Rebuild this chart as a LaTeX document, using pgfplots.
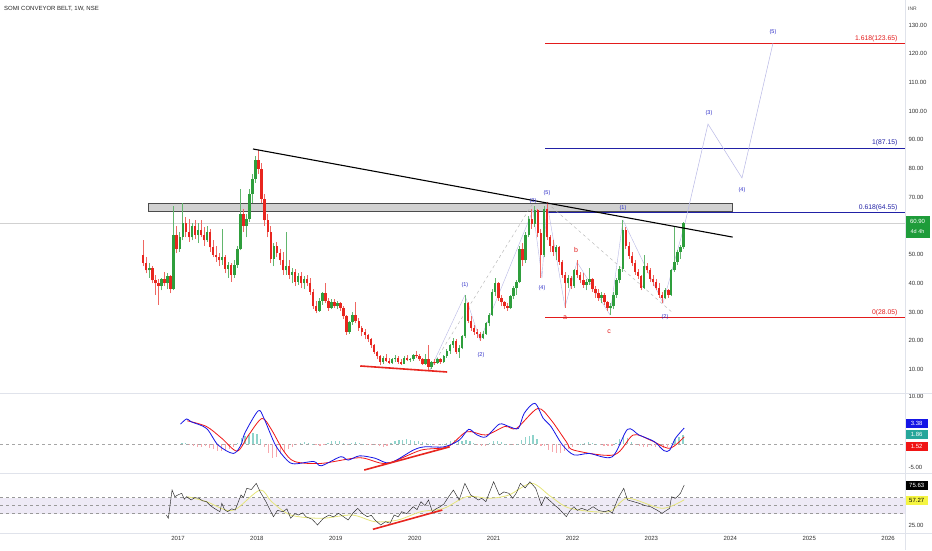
\documentclass[border=0pt]{standalone}
\usepackage{fontspec}
\setmainfont{Liberation Sans}
\usepackage{pgfplots}
\usepackage{pgfplotstable}
\pgfplotsset{compat=1.18}

\definecolor{upc}{HTML}{2E9E3C}
\definecolor{dnc}{HTML}{E8261F}
\definecolor{fibred}{HTML}{E31B1B}
\definecolor{fibblue}{HTML}{2121A6}
\definecolor{wavec}{HTML}{2B2BC8}
\definecolor{projc}{HTML}{B8B8E6}
\definecolor{sepc}{HTML}{E0E3EB}
\definecolor{macdb}{HTML}{1515E6}
\definecolor{macdr}{HTML}{F01515}
\definecolor{histpos}{HTML}{8FD3CB}
\definecolor{histneg}{HTML}{F7A8AE}
\definecolor{rsiband}{HTML}{EEEAF6}
\definecolor{rsima}{HTML}{E6E67A}
\definecolor{tagg}{HTML}{1E9C3A}
\definecolor{tagteal}{HTML}{26A69A}
\definecolor{tagy}{HTML}{F5F542}

% weekly-ish candles (2 weeks per bar): t open high low close
\pgfplotstableread{
t o h l c
2016.560 50 55 46 47
2016.598 47 49 43.5 44.5
2016.637 44.5 47 42 45.5
2016.675 45.5 46 40 41
2016.714 41 43 36 40
2016.752 40 41.5 32.5 39
2016.791 39 42 37.5 41.5
2016.829 41.5 44 39 40
2016.868 40 43.5 38 42.5
2016.906 42.5 43 36.5 38
2016.945 38 67 37.5 57
2016.983 57 60 50.5 52
2017.022 52 58 51 56
2017.060 56 68 55 61
2017.098 61 63 56 58
2017.137 58 62.5 54.5 56
2017.175 56 61 55 60
2017.214 60 62 55.5 57
2017.252 57 61 54 58.5
2017.291 58.5 62 56 57
2017.329 57 59.5 53 55
2017.368 55 60 54.5 58
2017.406 58 59 51 52.5
2017.445 52.5 55 49 50
2017.483 50 53 47.5 49
2017.521 49 50.5 46 48
2017.560 48 59 46.5 49
2017.598 49 50 43.5 45
2017.637 45 47.5 42 46.5
2017.675 46.5 47 40.5 43
2017.714 43 48 42 46.5
2017.752 46.5 53 45.5 52
2017.791 52 73 51.5 64
2017.829 64 66 58 60
2017.868 60 64 56 62.5
2017.906 62.5 73 61.5 71
2017.945 71 78 68 76.5
2017.983 76.5 84.5 75 83
2018.021 83 86.5 78 80
2018.060 80 82 68 69.5
2018.098 69.5 71 60 62
2018.137 62 64 56 58
2018.175 58 60 47 48.5
2018.214 48.5 54 46 53
2018.252 53 54.5 49 50.5
2018.291 50.5 52 46.5 48
2018.329 48 51 43 44.5
2018.368 44.5 58 43 46
2018.406 46 48 41.5 43
2018.445 43 45.5 40 44
2018.483 44 45 39 40.5
2018.521 40.5 43.5 39.5 42.5
2018.560 42.5 44 38.5 40
2018.598 40 42.5 38 41.5
2018.637 41.5 43 39 40
2018.675 40 42 36 37
2018.714 37 38 31 32
2018.752 32 34 29.5 30.5
2018.791 30.5 35 30 34
2018.829 34 37 32.5 36.5
2018.868 36.5 40 33 34
2018.906 34 35 30.5 31.5
2018.944 31.5 34.5 31 33.5
2018.983 33.5 34.5 31.5 32
2019.021 32 34 31 33
2019.060 33 33.5 30.5 31.5
2019.098 31.5 32 27.5 28.5
2019.137 28.5 29 22 23
2019.175 23 27 22.5 26.5
2019.214 26.5 30 25.5 29
2019.252 29 33.5 26 27
2019.291 27 28 23.5 24.5
2019.329 24.5 25 21.5 23
2019.368 23 24 20.5 22
2019.406 22 22.5 19.5 20.5
2019.445 20.5 21 17.5 18.5
2019.483 18.5 19 15.5 16
2019.521 16 16.5 13.5 14.5
2019.560 14.5 15 11.5 12.5
2019.598 12.5 14.5 11.8 14
2019.637 14 15.5 12.5 13
2019.675 13 14 11.8 12.3
2019.714 12.3 14 12 13.5
2019.752 13.5 15 12.5 14
2019.791 14 14.5 12 12.5
2019.829 12.5 13.5 11.5 12
2019.868 12 14.5 11.8 14
2019.906 14 15 12.8 13.2
2019.944 13.2 14 12.5 13.5
2019.983 13.5 15.5 13 15
2020.021 15 16.5 14 14.5
2020.060 14.5 15.2 13 13.5
2020.098 13.5 14 11.5 12
2020.137 12 15.5 11.5 13.8
2020.175 13.8 18.5 9.8 11
2020.214 11 13 10 12.5
2020.252 12.5 13.5 11.5 12.2
2020.291 12.2 14 12 13.5
2020.329 13.5 14 12 12.5
2020.368 12.5 15 12.3 14.5
2020.406 14.5 17 14 16.5
2020.445 16.5 19 15.5 18.5
2020.483 18.5 21 17.5 20
2020.521 20 20.5 15.5 16
2020.560 16 18.5 14 17.5
2020.598 17.5 22 17 21.5
2020.637 21.5 36 21 33
2020.675 33 33.5 26 27
2020.714 27 28.5 23.5 24.5
2020.752 24.5 25.5 22 23
2020.791 23 24 21 22.5
2020.829 22.5 23 20 21
2020.868 21 23.5 20.5 22.5
2020.906 22.5 26.5 22 26
2020.944 26 29.5 25 29
2020.983 29 38 28.5 37
2021.021 37 42 35.5 40
2021.060 40 40.5 34 35
2021.098 35 36 32 33.5
2021.137 33.5 34 31 32
2021.175 32 33 30.5 31.5
2021.214 31.5 36 31 35.5
2021.252 35.5 39 34.5 38.5
2021.291 38.5 41 36 40.5
2021.329 40.5 53 40 52
2021.368 52 54 46 48
2021.406 48 58 47 57
2021.445 57 63.5 56 62.5
2021.483 62.5 66 59 60.5
2021.521 60.5 67 59.5 65.5
2021.560 65.5 66 56 57.5
2021.598 57.5 59 42 50
2021.637 50 67 49 66
2021.675 66 68.5 55 56
2021.714 56 57 51 53
2021.752 53 55 49.5 51
2021.791 51 53.5 48 52.5
2021.829 52.5 53 46.5 47.5
2021.868 47.5 48 42 43
2021.906 43 44 31.5 40
2021.944 40 43 38.5 42
2021.983 42 42.5 38 39
2022.021 39 45 38.5 44.5
2022.060 44.5 48 42 43
2022.098 43 44 40 41
2022.137 41 43.5 38.5 39.5
2022.175 39.5 41.5 37.5 40.5
2022.214 40.5 45.5 39.5 41.5
2022.252 41.5 42 37 38
2022.291 38 39 35 36.5
2022.329 36.5 38 34 35
2022.368 35 37 33 36
2022.406 36 36.5 32.5 33.5
2022.445 33.5 34 30.5 31.5
2022.483 31.5 33 29 32
2022.521 32 37 31 36
2022.560 36 42 35 41
2022.598 41 46 40 45
2022.637 45 62 44 58.5
2022.675 58.5 59.5 52 53
2022.714 53 54.5 48.5 49.5
2022.752 49.5 51 46 47
2022.791 47 48 43 44
2022.829 44 45 41.5 42.5
2022.868 42.5 43 37.5 38.5
2022.906 38.5 50 38 46
2022.944 46 47 43.5 44.5
2022.983 44.5 45.5 40.5 41.5
2023.021 41.5 43 39 40.5
2023.060 40.5 41.5 37.5 38.5
2023.098 38.5 40 35 36
2023.137 36 37 33 35
2023.175 35 38.5 34.5 37.5
2023.214 37.5 38 35 36
2023.252 36 45 35.5 44.5
2023.291 44.5 59.5 44 47.5
2023.329 47.5 51.5 46.5 51
2023.368 51 53.5 48.5 52.5
2023.406 52.5 61.5 52 60.9
}\candles

% MACD histogram
\pgfplotstableread{
t h
2017.05 0.3
2017.10 0.3
2017.15 -0.2
2017.20 -0.5
2017.25 -0.7
2017.30 -0.6
2017.35 -0.5
2017.40 -0.8
2017.45 -1.1
2017.50 -1.4
2017.55 -1.5
2017.60 -1.3
2017.65 -1.0
2017.70 -0.7
2017.75 0.2
2017.80 1.2
2017.85 1.6
2017.90 2.0
2017.95 2.4
2018.00 2.2
2018.05 1.0
2018.10 -0.6
2018.15 -2.0
2018.20 -2.9
2018.25 -2.8
2018.30 -2.2
2018.35 -1.6
2018.40 -1.0
2018.45 -0.6
2018.50 -0.3
2018.55 0.2
2018.60 0.4
2018.65 0.3
2018.70 0.1
2018.75 -0.3
2018.80 -0.5
2018.85 -0.3
2018.90 0.3
2018.95 0.6
2019.00 0.7
2019.05 0.6
2019.10 0.2
2019.15 -0.2
2019.20 0.2
2019.25 0.4
2019.30 0.3
2019.35 0.1
2019.40 -0.2
2019.45 -0.3
2019.50 -0.2
2019.55 -0.4
2019.60 -0.6
2019.65 -0.4
2019.70 0.3
2019.75 0.6
2019.80 0.8
2019.85 0.9
2019.90 1.0
2019.95 0.9
2020.00 0.7
2020.05 0.6
2020.10 0.5
2020.15 0.3
2020.20 0.1
2020.25 -0.1
2020.30 -0.2
2020.35 0.1
2020.40 0.3
2020.45 0.6
2020.50 0.8
2020.55 0.9
2020.60 0.7
2020.65 0.9
2020.70 0.6
2020.75 0.2
2020.80 -0.3
2020.85 -0.5
2020.90 -0.4
2020.95 0.3
2021.00 0.6
2021.05 0.7
2021.10 0.4
2021.15 0.1
2021.20 -0.1
2021.25 -0.2
2021.30 0.1
2021.35 0.9
2021.40 1.5
2021.45 1.7
2021.50 1.8
2021.55 1.1
2021.60 -0.4
2021.65 -0.5
2021.70 -1.2
2021.75 -1.6
2021.80 -1.9
2021.85 -1.8
2021.90 -1.4
2021.95 -1.0
2022.00 -0.7
2022.05 -0.3
2022.10 0.1
2022.15 0.3
2022.20 0.4
2022.25 0.3
2022.30 0.1
2022.35 -0.2
2022.40 -0.4
2022.45 -0.5
2022.50 -0.4
2022.55 0.3
2022.60 1.0
2022.65 1.5
2022.70 1.3
2022.75 0.5
2022.80 -0.2
2022.85 -0.5
2022.90 -0.7
2022.95 -0.6
2023.00 -0.5
2023.05 -0.6
2023.10 -0.8
2023.15 -0.9
2023.20 -0.6
2023.25 0.2
2023.30 1.1
2023.35 1.5
2023.40 1.86
}\hist

\pgfplotsset{
  tvpane/.style={
    scale only axis, width=905pt,
    xmin=2014.744, xmax=2026.214,
    axis line style={draw=none},
    major tick length=0pt,
    xtick=\empty,
    yticklabel pos=right,
    tick label style={font=\fontsize{6}{7}\selectfont, text=black!80},
    /pgf/number format/assume math mode=true,
    yticklabel style={/pgf/number format/.cd, fixed, fixed zerofill, precision=2},
    anchor=south west,
  },
  candle/.style={draw=none, mark=none, forget plot,
    error bars/y dir=plus, error bars/y explicit, error bars/error mark=none},
}

\begin{document}
\begin{tikzpicture}
\fill[white] (0pt,0pt) rectangle (932pt,550pt);
\path[use as bounding box] (0pt,0pt) rectangle (932pt,550pt);

% ---------- price pane ----------
\begin{axis}[tvpane, at={(0pt,157pt)}, height=393pt,
  ymin=1.78, ymax=138.71, ytick={10,20,30,40,50,70,80,90,100,110,120,130}]
  % current price line
  \addplot[color=black!18, line width=0.4pt] coordinates {(2014.744,60.9) (2026.214,60.9)};
  % resistance zone
  \draw[fill=black!18, draw=black!70, line width=0.6pt] (axis cs:2016.62,65.2) rectangle (axis cs:2024.03,68.0);
  % fibonacci levels
  \addplot[fibred, line width=0.9pt] coordinates {(2021.652,123.65) (2026.214,123.65)};
  \addplot[fibblue, line width=0.9pt] coordinates {(2021.652,87.15) (2026.214,87.15)};
  \addplot[fibblue, line width=0.9pt] coordinates {(2021.673,64.55) (2026.214,64.55)};
  \addplot[fibred, line width=0.9pt] coordinates {(2021.652,28.05) (2026.214,28.05)};
  \begin{scope}[font=\fontsize{6.8}{8}\selectfont]
    \node[anchor=south east, inner sep=1.5pt, text=fibred] at (axis cs:2026.14,123.65) {1.618(123.65)};
    \node[anchor=south east, inner sep=1.5pt, text=fibblue] at (axis cs:2026.14,87.15) {1(87.15)};
    \node[anchor=south east, inner sep=1.5pt, text=fibblue] at (axis cs:2026.14,64.55) {0.618(64.55)};
    \node[anchor=south east, inner sep=1.5pt, text=fibred] at (axis cs:2026.14,28.05) {0(28.05)};
  \end{scope}
  % wave guide lines
  \addplot[black!30, dashed, line width=0.4pt] coordinates {(2020.19,9.8) (2021.50,68.0)};
  \addplot[black!30, dashed, line width=0.4pt] coordinates {(2021.677,68.0) (2023.274,29.6)};
  \addplot[projc, line width=0.4pt] coordinates {(2020.194,9.8) (2020.637,35.9) (2020.828,20.2) (2021.499,65.5) (2021.613,41.8) (2021.677,68.0) (2021.905,31.7) (2022.057,47.4) (2022.475,29.0) (2022.640,62.0) (2023.147,33.1) (2023.426,61.0)};
  \addplot[projc, line width=0.5pt] coordinates {(2023.426,61.0) (2023.717,95.5) (2024.148,76.7) (2024.541,123.7)};
  % candles: wicks
  \addplot[candle, restrict expr to domain={\thisrow{c}-\thisrow{o}}{0:1000},
    error bars/error bar style={draw=upc!75, line width=0.6pt}]
    table[x=t, y=l, y error expr=\thisrow{h}-\thisrow{l}] {\candles};
  \addplot[candle, restrict expr to domain={\thisrow{c}-\thisrow{o}}{-1000:-0.001},
    error bars/error bar style={draw=dnc!70, line width=0.6pt}]
    table[x=t, y=l, y error expr=\thisrow{h}-\thisrow{l}] {\candles};
  % candles: bodies
  \addplot[candle, restrict expr to domain={\thisrow{c}-\thisrow{o}}{0:1000},
    error bars/error bar style={draw=upc, line width=2.4pt}]
    table[x=t, y=o, y error expr=\thisrow{c}-\thisrow{o}] {\candles};
  \addplot[candle, restrict expr to domain={\thisrow{c}-\thisrow{o}}{-1000:-0.001},
    error bars/error bar style={draw=dnc, line width=2.4pt}]
    table[x=t, y=c, y error expr=\thisrow{o}-\thisrow{c}] {\candles};
  % trend lines
  \addplot[black, line width=1.1pt] coordinates {(2017.95,86.8) (2024.03,56.1)};
  \addplot[dnc, line width=1.6pt] coordinates {(2019.31,11.2) (2020.41,9.1)};
  % wave labels
  \begin{scope}[font=\fontsize{5.5}{6}\selectfont, text=wavec]
    \node at (axis cs:2020.637,39.4) {(1)};
    \node at (axis cs:2020.840,15.0) {(2)};
    \node at (axis cs:2021.499,68.7) {(3)};
    \node at (axis cs:2021.613,38.4) {(4)};
    \node at (axis cs:2021.677,71.5) {(5)};
    \node at (axis cs:2022.640,66.2) {(1)};
    \node at (axis cs:2023.172,28.3) {(2)};
    \node at (axis cs:2023.730,99.3) {(3)};
    \node at (axis cs:2024.148,72.5) {(4)};
    \node at (axis cs:2024.541,127.6) {(5)};
  \end{scope}
  \begin{scope}[font=\fontsize{7}{8}\selectfont, text=fibred]
    \node at (axis cs:2021.905,27.9) {a};
    \node at (axis cs:2022.044,51.6) {b};
    \node at (axis cs:2022.463,23.0) {c};
  \end{scope}
\end{axis}

% ---------- MACD pane ----------
\begin{axis}[tvpane, at={(0pt,77pt)}, height=80pt,
  ymin=-6.13, ymax=10.78, ytick={-5,10}]
  \addplot[black!35, dashed, line width=0.4pt] coordinates {(2014.744,0) (2026.214,0)};
  \addplot[ycomb, no marks, histpos, line width=1.2pt, restrict y to domain=0:50] table[x=t, y=h] {\hist};
  \addplot[ycomb, no marks, histneg, line width=1.2pt, restrict y to domain=-50:0] table[x=t, y=h] {\hist};
  \addplot[macdr, line width=0.8pt, smooth] coordinates {
    (2017.119,4.9) (2017.361,3.7) (2017.555,1.2) (2017.750,-1.5) (2017.895,1.9)
    (2018.065,5.4) (2018.186,3.0) (2018.332,-1.3) (2018.478,-3.7) (2018.817,-4.1)
    (2019.302,-2.9) (2019.641,-4.1) (2020.079,-1.3) (2020.417,-0.6) (2020.660,2.6)
    (2020.902,1.9) (2021.144,3.7) (2021.290,3.3) (2021.558,7.5) (2021.727,5.1)
    (2021.921,0.5) (2022.018,-1.3) (2022.527,-2.3) (2022.769,1.9) (2022.989,0.8)
    (2023.231,-0.9) (2023.416,1.52)};
  \addplot[macdb, line width=0.8pt, smooth] coordinates {
    (2017.032,4.2) (2017.109,5.3) (2017.167,4.7) (2017.361,3.3) (2017.507,-0.2)
    (2017.701,-2.0) (2017.798,-0.2) (2017.847,2.3) (2018.016,7.0) (2018.090,5.4)
    (2018.234,-0.2) (2018.380,-3.4) (2018.478,-4.2) (2018.720,-3.7) (2018.817,-4.6)
    (2019.060,-2.7) (2019.156,-3.4) (2019.302,-2.5) (2019.496,-3.0) (2019.689,-4.0)
    (2019.981,-1.3) (2020.127,-0.6) (2020.369,-0.6) (2020.563,0.8) (2020.684,3.1)
    (2020.782,2.0) (2020.902,1.5) (2021.072,4.2) (2021.194,3.7) (2021.314,3.3)
    (2021.388,6.5) (2021.523,8.6) (2021.630,5.4) (2021.727,3.7) (2021.873,-0.2)
    (2022.018,-2.3) (2022.212,-2.0) (2022.503,-2.7) (2022.697,3.1) (2022.843,1.9)
    (2023.037,0.5) (2023.158,-1.4) (2023.231,-1.3) (2023.304,1.2) (2023.416,3.38)};
  \addplot[dnc, line width=1.6pt] coordinates {(2019.360,-5.5) (2020.442,-0.6)};
\end{axis}

% ---------- RSI pane ----------
\begin{axis}[tvpane, at={(0pt,17pt)}, height=60pt,
  ymin=15.92, ymax=90.55, ytick={25},
  xtick={2017,2018,...,2026},
  xticklabels={2017,2018,2019,2020,2021,2022,2023,2024,2025,2026}]
  \fill[rsiband] (axis cs:2014.744,40) rectangle (axis cs:2026.214,60);
  \addplot[black!40, dashed, line width=0.4pt] coordinates {(2014.744,60) (2026.214,60)};
  \addplot[black!40, dashed, line width=0.4pt] coordinates {(2014.744,50) (2026.214,50)};
  \addplot[black!40, dashed, line width=0.4pt] coordinates {(2014.744,40) (2026.214,40)};
  \addplot[rsima, line width=0.8pt, smooth] coordinates {
    (2017.119,61.1) (2017.361,54.9) (2017.605,44.5) (2017.750,46.6) (2018.041,69.4)
    (2018.186,54.9) (2018.428,38.3) (2018.817,34.2) (2019.205,38.3) (2019.496,30)
    (2019.787,32.1) (2020.079,42.4) (2020.369,46.6) (2020.660,61.1) (2020.951,59.1)
    (2021.194,63.2) (2021.484,77.7) (2021.727,61.1) (2021.970,46.6) (2022.455,42.4)
    (2022.697,59.1) (2023.135,46.6) (2023.416,57.27)};
  \addplot[black!85, line width=0.45pt] coordinates {
    (2016.853,38.3) (2016.877,34.2) (2016.925,69.4) (2016.960,61) (2016.997,63.2)
    (2017.047,65.3) (2017.080,58) (2017.109,61.1) (2017.167,57) (2017.215,60)
    (2017.265,59.1) (2017.310,56) (2017.361,54.9) (2017.410,50) (2017.459,46.6)
    (2017.531,42.4) (2017.555,52.9) (2017.590,45) (2017.629,42.4) (2017.680,46)
    (2017.725,44.5) (2017.798,63.2) (2017.830,60) (2017.871,71.5) (2017.930,70)
    (2017.992,77.7) (2018.041,67.3) (2018.114,54.9) (2018.210,36.2) (2018.260,44)
    (2018.332,42.4) (2018.380,46) (2018.428,34.2) (2018.480,40) (2018.526,38.3)
    (2018.580,41) (2018.622,36.2) (2018.700,33) (2018.768,25.9) (2018.840,34)
    (2018.914,38.3) (2018.970,36) (2019.035,40.4) (2019.100,36) (2019.156,32.1)
    (2019.220,41) (2019.278,46.6) (2019.340,40) (2019.399,36.2) (2019.450,38)
    (2019.496,32.1) (2019.569,25.9) (2019.630,30) (2019.689,28) (2019.739,38.3)
    (2019.790,36) (2019.835,42.4) (2019.900,40) (2019.981,48.6) (2020.030,45)
    (2020.079,54.9) (2020.130,50) (2020.175,57) (2020.223,42.4) (2020.270,46)
    (2020.321,48.6) (2020.370,52) (2020.417,59.1) (2020.490,69.4) (2020.563,57)
    (2020.636,77.7) (2020.709,63.2) (2020.760,60) (2020.806,57) (2020.850,59)
    (2020.902,54.9) (2021.000,79.7) (2021.072,63.2) (2021.130,67) (2021.194,65.3)
    (2021.242,59.1) (2021.290,66) (2021.340,77.7) (2021.400,72) (2021.460,79.7)
    (2021.534,71.5) (2021.606,50.7) (2021.654,61.1) (2021.727,54.9) (2021.780,50)
    (2021.824,46.6) (2021.921,36.2) (2021.970,44) (2022.018,48.6) (2022.060,44)
    (2022.115,46.6) (2022.190,44) (2022.261,48.6) (2022.330,44) (2022.407,42.4)
    (2022.460,44) (2022.503,40.4) (2022.577,59.1) (2022.649,71.5) (2022.697,57)
    (2022.770,55) (2022.843,52.9) (2022.920,50) (2022.989,48.6) (2023.060,45)
    (2023.135,40.4) (2023.190,44) (2023.231,46.6) (2023.255,61.1) (2023.300,59)
    (2023.328,61.1) (2023.368,65.3) (2023.416,75.63)};
  \addplot[dnc, line width=1.6pt] coordinates {(2019.47,20.5) (2020.35,44.5)};
\end{axis}

% ---------- pane separators ----------
\draw[sepc, line width=0.6pt] (0pt,157pt) -- (932pt,157pt);
\draw[sepc, line width=0.6pt] (0pt,77pt) -- (932pt,77pt);
\draw[sepc, line width=0.6pt] (0pt,17pt) -- (932pt,17pt);
\draw[sepc, line width=0.6pt] (905pt,0pt) -- (905pt,550pt);

% ---------- title and scale tags ----------
\node[anchor=west, inner sep=0pt, font=\fontsize{6}{7}\selectfont, text=black!85] at (4pt,541pt) {SOMI CONVEYOR BELT, 1W, NSE};
\node[anchor=west, inner sep=0pt, font=\fontsize{5}{6}\selectfont, text=black!70] at (908pt,541pt) {INR};

\fill[tagg] (905.5pt,312pt) rectangle (930pt,334pt);
\node[text=white, inner sep=0pt, font=\fontsize{6}{7}\selectfont] at (917.5pt,328.5pt) {60.90};
\node[text=white, inner sep=0pt, font=\fontsize{5.5}{6}\selectfont] at (917.5pt,318pt) {4d 4h};

\fill[macdb] (905.5pt,122.5pt) rectangle (928pt,131.5pt);
\node[text=white, inner sep=0pt, font=\fontsize{6}{7}\selectfont] at (916.7pt,127pt) {3.38};
\fill[tagteal] (905.5pt,111.5pt) rectangle (928pt,120.5pt);
\node[text=white, inner sep=0pt, font=\fontsize{6}{7}\selectfont] at (916.7pt,116pt) {1.86};
\fill[macdr] (905.5pt,99.5pt) rectangle (928pt,108.5pt);
\node[text=white, inner sep=0pt, font=\fontsize{6}{7}\selectfont] at (916.7pt,104pt) {1.52};

\fill[black] (905.5pt,60.5pt) rectangle (928pt,69.5pt);
\node[text=white, inner sep=0pt, font=\fontsize{6}{7}\selectfont] at (916.7pt,65pt) {75.63};
\fill[tagy] (905.5pt,45.5pt) rectangle (928pt,54.5pt);
\node[text=black, inner sep=0pt, font=\fontsize{6}{7}\selectfont] at (916.7pt,50pt) {57.27};
\end{tikzpicture}
\end{document}
